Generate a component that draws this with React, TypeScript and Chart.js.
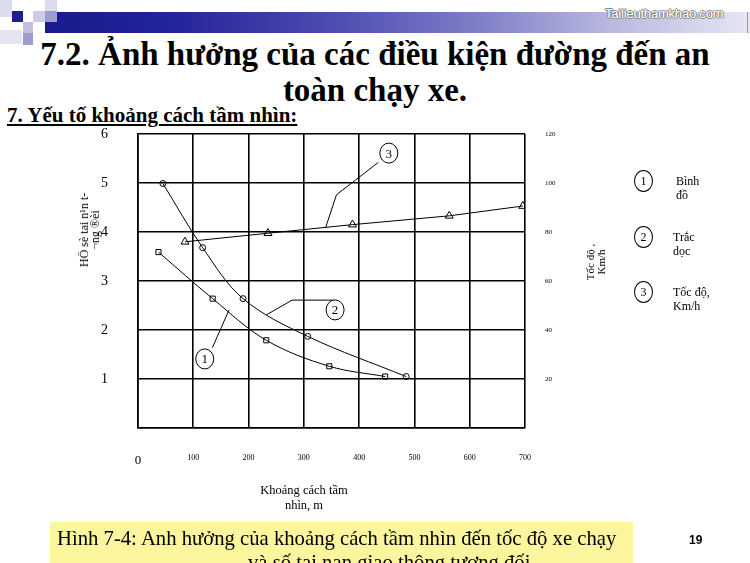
import React, { useEffect, useRef } from "react";
import Chart from "chart.js/auto";

// ---- data ----
const xTickValues = [0, 100, 200, 300, 400, 500, 600, 700];
const leftTickValues = [0, 1, 2, 3, 4, 5, 6];
const rightTickValues = [0, 20, 40, 60, 80, 100, 120];

// Curve 1 – Bình đồ (squares), relative accident rate
const planDistance = [37, 135, 232, 346, 447];
const planRate = [3.59, 2.64, 1.79, 1.26, 1.05];

// Curve 2 – Trắc dọc (circles), relative accident rate
const profileDistance = [45, 117, 190, 307, 485];
const profileRate = [4.99, 3.68, 2.64, 1.87, 1.05];

// Curve 3 – Tốc độ (triangles), km/h on right axis
const speedDistance = [85, 235, 388, 563, 696];
const speedKmh = [76, 79.5, 83, 86.6, 90.6];

// Call-out labels (data coordinates: distance, left-axis value)
const calloutText = ["1", "2", "3"];
const calloutCenterX = [120.7, 356.5, 453.7];
const calloutCenterY = [1.41, 2.41, 5.61];
const calloutLeaderX = [
  [134.6, 164.7],
  [352.9, 278.7, 232.4],
  [434.6, 359, 339.7],
];
const calloutLeaderY = [
  [1.64, 2.41],
  [2.61, 2.61, 2.31],
  [5.42, 4.76, 4.1],
];

const legendNumbers = ["1", "2", "3"];
const legendLabels = [["Bình", "đồ"], ["Trắc", "dọc"], ["Tốc độ,", "Km/h"]];

const SERIF = "'Liberation Serif', 'Times New Roman', serif";
const SANS = "'Liberation Sans', Arial, sans-serif";

const calloutPlugin = {
  id: "callouts",
  afterDatasetsDraw(chart: any) {
    const { ctx, scales } = chart;
    const sx = scales.x;
    const sy = scales.y;
    ctx.save();
    ctx.strokeStyle = "#000";
    ctx.lineWidth = 1;
    calloutLeaderX.forEach((xs, i) => {
      ctx.beginPath();
      xs.forEach((xv, j) => {
        const px = sx.getPixelForValue(xv);
        const py = sy.getPixelForValue(calloutLeaderY[i][j]);
        if (j === 0) ctx.moveTo(px, py);
        else ctx.lineTo(px, py);
      });
      ctx.stroke();
    });
    calloutText.forEach((t, i) => {
      const px = sx.getPixelForValue(calloutCenterX[i]);
      const py = sy.getPixelForValue(calloutCenterY[i]);
      ctx.beginPath();
      ctx.ellipse(px, py, 9, 10, 0, 0, Math.PI * 2);
      ctx.fillStyle = "#fff";
      ctx.fill();
      ctx.stroke();
      ctx.fillStyle = "#000";
      ctx.font = `13px ${SERIF}`;
      ctx.textAlign = "center";
      ctx.textBaseline = "middle";
      ctx.fillText(t, px, py + 1);
    });
    ctx.restore();
  },
};

function ChartCanvas() {
  const ref = useRef<HTMLCanvasElement | null>(null);
  useEffect(() => {
    if (!ref.current) return;
    const gridStyle = {
      color: "#000",
      lineWidth: 1.6,
      drawTicks: false,
      tickLength: 0,
    };
    const chart = new Chart(ref.current, {
      type: "line",
      data: {
        datasets: [
          {
            label: "Bình đồ",
            data: planDistance.map((x, i) => ({ x, y: planRate[i] })),
            yAxisID: "y",
            borderColor: "#000",
            borderWidth: 1,
            backgroundColor: "rgba(0,0,0,0)",
            pointStyle: "rect",
            pointRadius: 3.6,
            pointBorderWidth: 1,
            pointBorderColor: "#000",
            pointBackgroundColor: "rgba(0,0,0,0)",
            tension: 0.35,
            fill: false,
          },
          {
            label: "Trắc dọc",
            data: profileDistance.map((x, i) => ({ x, y: profileRate[i] })),
            yAxisID: "y",
            borderColor: "#000",
            borderWidth: 1,
            backgroundColor: "rgba(0,0,0,0)",
            pointStyle: "circle",
            pointRadius: 3,
            pointBorderWidth: 1,
            pointBorderColor: "#000",
            pointBackgroundColor: "rgba(0,0,0,0)",
            tension: 0.35,
            fill: false,
          },
          {
            label: "Tốc độ, Km/h",
            data: speedDistance.map((x, i) => ({ x, y: speedKmh[i] })),
            yAxisID: "y1",
            borderColor: "#000",
            borderWidth: 1,
            backgroundColor: "rgba(0,0,0,0)",
            pointStyle: "triangle",
            pointRadius: 4.6,
            pointBorderWidth: 1,
            pointBorderColor: "#000",
            pointBackgroundColor: "rgba(0,0,0,0)",
            tension: 0,
            fill: false,
          },
        ],
      },
      options: {
        responsive: false,
        animation: false,
        devicePixelRatio: 1,
        layout: { padding: { top: 134, left: 0, right: 0, bottom: 0 } },
        plugins: {
          legend: { display: false },
          tooltip: { enabled: false },
          title: { display: false },
        },
        scales: {
          x: {
            type: "linear",
            min: xTickValues[0],
            max: xTickValues[xTickValues.length - 1],
            afterBuildTicks: (s: any) => {
              s.ticks = xTickValues.map((v) => ({ value: v }));
            },
            ticks: {
              color: "#000",
              padding: 25,
              maxRotation: 0,
              autoSkip: false,
              font: (c: any) =>
                c.tick && c.tick.value === 0
                  ? { family: SERIF, size: 13 }
                  : { family: SERIF, size: 8 },
            },
            grid: gridStyle,
            border: { color: "#000", width: 1.6 },
            afterFit: (s: any) => {
              s.height = 135;
            },
          },
          y: {
            position: "left",
            min: leftTickValues[0],
            max: leftTickValues[leftTickValues.length - 1],
            afterBuildTicks: (s: any) => {
              s.ticks = leftTickValues.map((v) => ({ value: v }));
            },
            ticks: {
              color: "#000",
              padding: 30,
              font: { family: SERIF, size: 14 },
              callback: (v: any) => (v === 0 ? "" : String(v)),
            },
            grid: gridStyle,
            border: { color: "#000", width: 1.6 },
            afterFit: (s: any) => {
              s.width = 138;
            },
          },
          y1: {
            position: "right",
            min: rightTickValues[0],
            max: rightTickValues[rightTickValues.length - 1],
            afterBuildTicks: (s: any) => {
              s.ticks = rightTickValues.map((v) => ({ value: v }));
            },
            ticks: {
              color: "#000",
              padding: 20,
              font: { family: SERIF, size: 7 },
              callback: (v: any) => (v === 0 ? "" : String(v)),
            },
            grid: { display: false, drawTicks: false, tickLength: 0 },
            border: { display: false },
            afterFit: (s: any) => {
              s.width = 225;
            },
          },
        },
      },
      plugins: [calloutPlugin],
    } as any);
    return () => chart.destroy();
  }, []);
  return (
    <canvas
      ref={ref}
      width={750}
      height={563}
      style={{ position: "absolute", left: 0, top: 0, width: 750, height: 563 }}
    />
  );
}

const abs = (s: React.CSSProperties): React.CSSProperties => ({
  position: "absolute",
  margin: 0,
  whiteSpace: "pre",
  ...s,
});

export default function App() {
  return (
    <div
      style={{
        position: "fixed",
        left: 0,
        top: 0,
        width: 750,
        height: 563,
        overflow: "hidden",
        background: "#fff",
        fontFamily: SERIF,
        color: "#000",
      }}
    >
      {/* decorative squares */}
      <div style={abs({ left: 0, top: 0, width: 12, height: 17, background: "#dcdcee" })} />
      <div style={abs({ left: 0, top: 30, width: 22, height: 14, background: "#e4e4f2" })} />
      <div style={abs({ left: 45, top: 0, width: 12, height: 11, background: "#dcdcee" })} />
      <div style={abs({ left: 33, top: 11, width: 12, height: 11, background: "#ccccE6" })} />
      <div style={abs({ left: 23, top: 22, width: 10, height: 11, background: "#c0c0e0" })} />
      <div style={abs({ left: 23, top: 33, width: 10, height: 12, background: "#9c9cd0" })} />
      {/* banner */}
      <div
        style={abs({
          left: 45,
          top: 12,
          width: 705,
          height: 21,
          background:
            "linear-gradient(to right, #1a1a8e 0%, #24249a 18%, #4a4ab0 40%, #8080c8 62%, #b8b8e0 80%, #e6e6f4 100%)",
        })}
      />
      <div style={abs({ left: 45, top: 11, width: 12, height: 11, background: "#9c9cd0" })} />
      <div style={abs({ left: 12, top: 11, width: 11, height: 11, background: "#1c1c94" })} />
      <div style={abs({ left: 747, top: 12, width: 1, height: 21, background: "#999" })} />
      <div
        style={abs({
          left: 605,
          top: 6,
          fontFamily: SANS,
          fontSize: 13,
          color: "#fff",
          textShadow:
            "1px 0 0 #888, -1px 0 0 #888, 0 1px 0 #888, 0 -1px 0 #888",
          letterSpacing: -0.2,
        })}
      >
        Tailieuthamkhao.com
      </div>

      {/* titles */}
      <div
        style={abs({
          left: 0,
          width: 750,
          top: 36,
          textAlign: "center",
          fontSize: 33,
          fontWeight: "bold",
          lineHeight: "36px",
        })}
      >
        {"7.2. Ảnh hưởng của các điều kiện đường đến an\ntoàn chạy xe."}
      </div>
      <div
        style={abs({
          left: 7,
          top: 103,
          fontSize: 21,
          fontWeight: "bold",
          textDecoration: "underline",
          lineHeight: "24px",
        })}
      >
        7. Yếu tố khoảng cách tầm nhìn:
      </div>

      <ChartCanvas />

      {/* axis titles */}
      <div
        style={abs({
          left: 90,
          top: 230,
          transform: "translate(-50%, -50%) rotate(-90deg)",
          fontSize: 12,
          lineHeight: "11px",
          textAlign: "center",
        })}
      >
        {"HÖ sè tai n¹n t-\n¬ng ®èi"}
      </div>
      <div
        style={abs({
          left: 596,
          top: 262,
          transform: "translate(-50%, -50%) rotate(-90deg)",
          fontSize: 11,
          lineHeight: "11px",
          textAlign: "center",
        })}
      >
        {"Tốc độ ,\nKm/h"}
      </div>
      <div
        style={abs({
          left: 304,
          top: 483,
          transform: "translateX(-50%)",
          fontSize: 12.5,
          lineHeight: "15px",
          textAlign: "center",
        })}
      >
        {"Khoảng cách tầm\nnhìn, m"}
      </div>

      {/* legend */}
      {legendNumbers.map((n, i) => (
        <React.Fragment key={n}>
          <div
            style={abs({
              left: 634,
              top: 170 + i * 55.5,
              width: 19,
              height: 22,
              border: "1.3px solid #000",
              borderRadius: "50%",
              boxSizing: "border-box",
              fontSize: 12,
              lineHeight: "20px",
              textAlign: "center",
            })}
          >
            {n}
          </div>
          <div
            style={abs({
              left: i === 0 ? 676 : 673,
              top: 174 + i * 55.5,
              fontSize: 12,
              lineHeight: "14px",
            })}
          >
            {legendLabels[i].join("\n")}
          </div>
        </React.Fragment>
      ))}

      {/* caption */}
      <div
        style={abs({
          left: 50,
          top: 522,
          width: 583,
          height: 41,
          background: "#fbf59e",
        })}
      />
      <div style={abs({ left: 57, top: 526, fontSize: 20.7, lineHeight: "24px" })}>
        Hình 7-4: Anh hưởng của khoảng cách tầm nhìn đến tốc độ xe chạy
      </div>
      <div style={abs({ left: 248, top: 550, fontSize: 20.7, lineHeight: "24px" })}>
        và số tai nạn giao thông tương đối
      </div>
      <div
        style={abs({
          left: 689,
          top: 533,
          fontFamily: SANS,
          fontWeight: "bold",
          fontSize: 12,
          lineHeight: "14px",
        })}
      >
        19
      </div>
    </div>
  );
}
